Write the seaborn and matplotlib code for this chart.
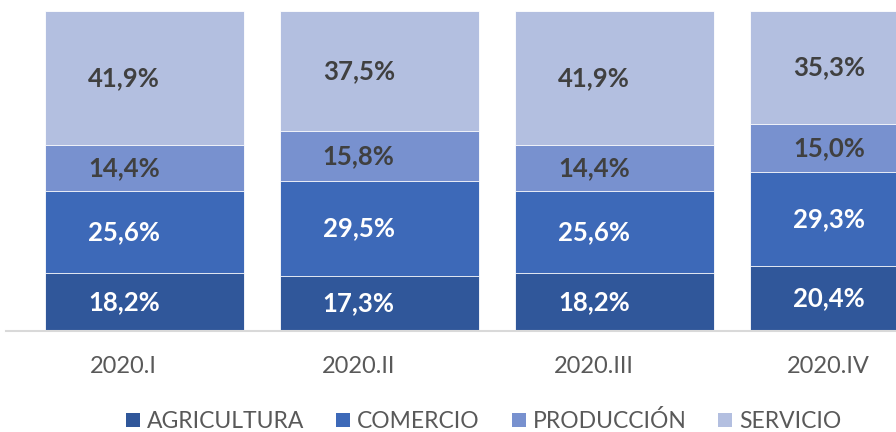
import numpy as np
import pandas as pd
import matplotlib.pyplot as plt
import seaborn as sns
from matplotlib.patches import Patch

# Values (percent of each quarter)
periods = ['2020.I', '2020.II', '2020.III', '2020.IV']
sectors = ['AGRICULTURA', 'COMERCIO', 'PRODUCCIÓN', 'SERVICIO']
agricultura = [18.2, 17.3, 18.2, 20.4]
comercio = [25.6, 29.5, 25.6, 29.3]
produccion = [14.4, 15.8, 14.4, 15.0]
servicio = [41.9, 37.5, 41.9, 35.3]

colors = ['#30579A', '#3D69B8', '#7891CF', '#B3BFE0']
label_colors = ['white', 'white', '#404040', '#404040']


def build_table() -> object:
    '''
        Puts the series into a long table with cumulative heights,
        which is what seaborn needs to draw stacked bars
    '''
    data = pd.DataFrame({'Periodo': periods,
                         'AGRICULTURA': agricultura,
                         'COMERCIO': comercio,
                         'PRODUCCIÓN': produccion,
                         'SERVICIO': servicio})
    cum = data[sectors].cumsum(axis=1)
    cum.columns = [c + '_top' for c in sectors]
    return pd.concat([data, cum], axis=1)


def main():
    data = build_table()

    sns.set_style('white')
    plt.rcParams['font.family'] = ['Lato', 'DejaVu Sans']

    fig = plt.figure(figsize=(8.96, 4.32), dpi=100)
    ax = fig.add_axes([6 / 896, 101 / 432, 890 / 896, 320 / 432])

    # Draw from the top segment down so each one covers the one above
    for sector, color in reversed(list(zip(sectors, colors))):
        sns.barplot(data=data, x='Periodo', y=sector + '_top', color=color,
                    width=0.847, edgecolor='white', linewidth=0.6,
                    saturation=1, ax=ax, order=periods)

    # Category labels sit a bit left of the bar centres in the original
    off = 0.09
    for i in range(len(periods)):
        bottom = 0
        for sector, tc in zip(sectors, label_colors):
            val = data.loc[i, sector]
            ax.text(i - off, bottom + val / 2, f'{val:.1f}%'.replace('.', ','),
                    ha='center', va='center', color=tc,
                    fontsize=18.5, fontweight='bold')
            bottom += val

    ax.set_xlim(-0.591, 3.196)
    ax.set_ylim(0, 100)
    ax.set_xticks(np.arange(len(periods)) - off, periods)
    ax.tick_params(axis='x', length=0, labelsize=17, labelcolor='#595959', pad=18)
    ax.set_yticks([])
    ax.set_xlabel('')
    ax.set_ylabel('')
    for side in ['top', 'right', 'left']:
        ax.spines[side].set_visible(False)
    ax.spines['bottom'].set_color('#D9D9D9')
    ax.spines['bottom'].set_linewidth(1.5)

    handles = [Patch(facecolor=c, edgecolor='none') for c in colors]
    fig.legend(handles, sectors, loc='center', bbox_to_anchor=(0.54, 0.025),
               ncol=4, frameon=False, fontsize=16.5, labelcolor='#595959',
               handlelength=0.6, handleheight=0.6, handletextpad=0.3,
               columnspacing=1.4)

    fig.savefig('out.png', dpi=100)


if __name__ == '__main__':
    main()
